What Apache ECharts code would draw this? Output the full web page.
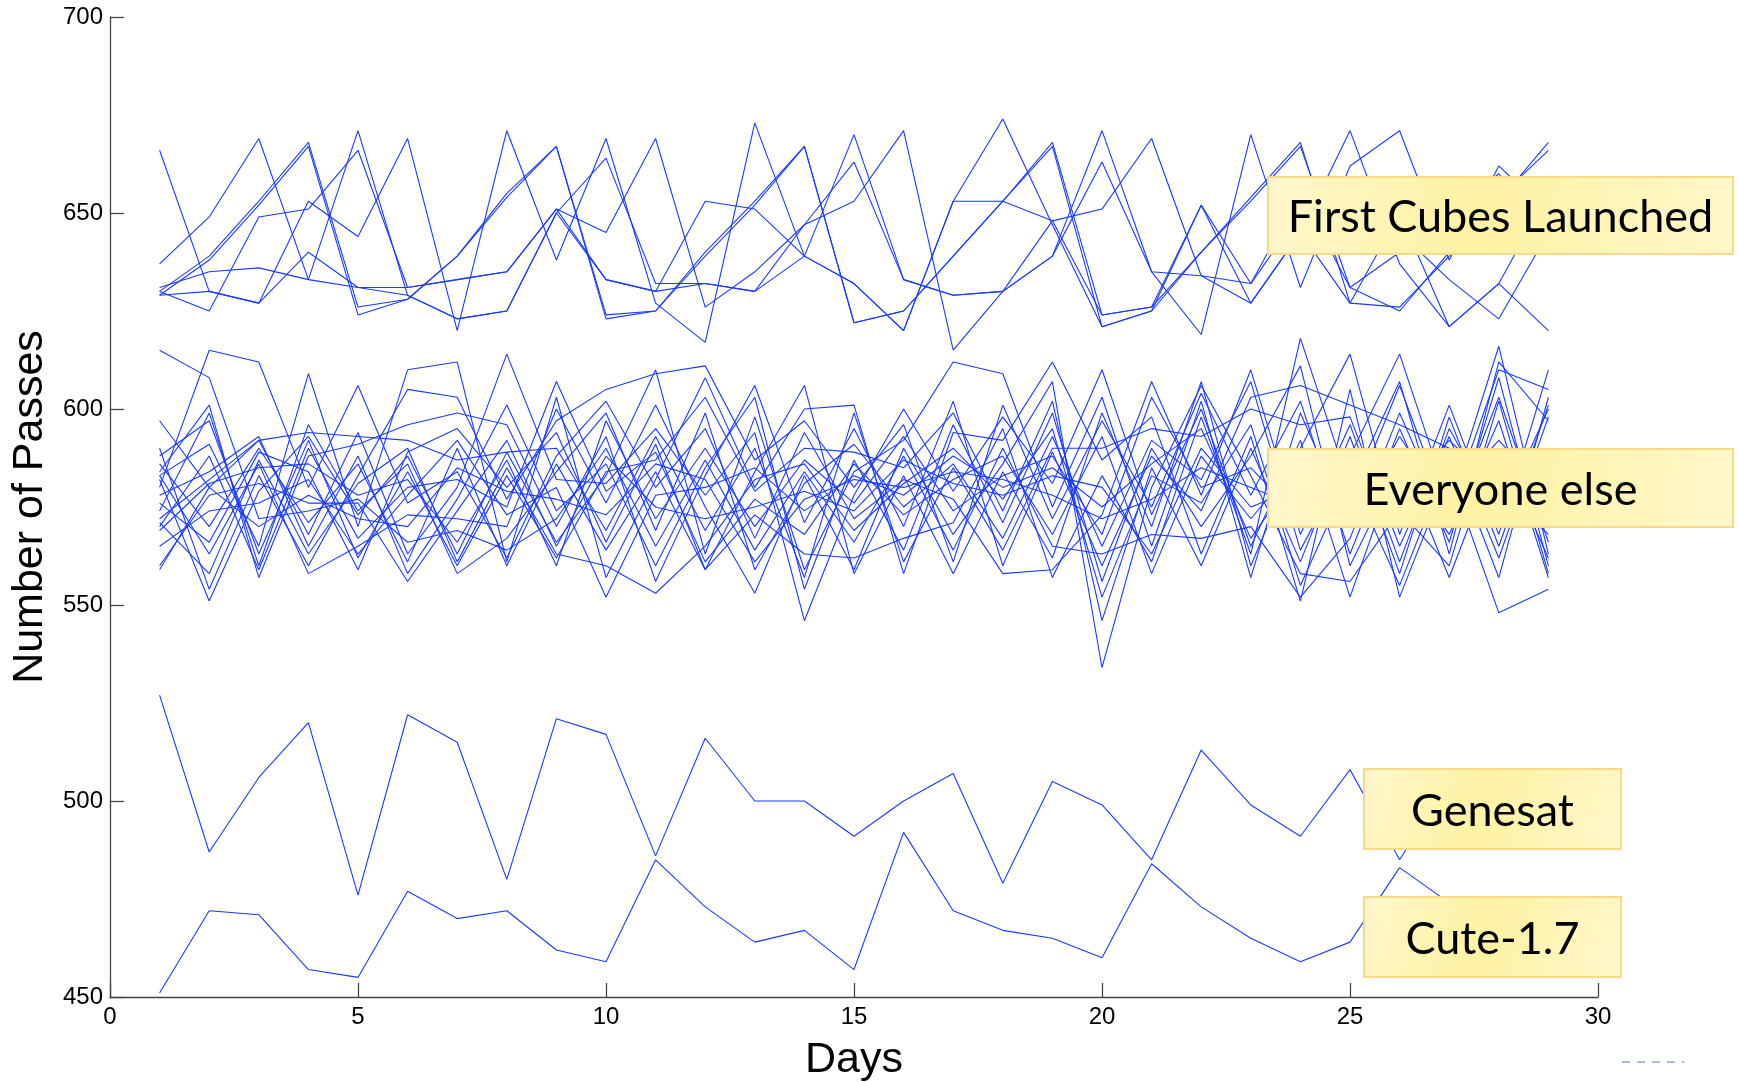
<!DOCTYPE html>
<html>
<head>
<meta charset="utf-8">
<title>Number of Passes</title>
<script src="https://cdn.jsdelivr.net/npm/echarts@6/dist/echarts.min.js"></script>
<style>
  html, body { margin: 0; padding: 0; background: #fff; }
  #chart { width: 1739px; height: 1082px; }
</style>
</head>
<body>
<div id="chart"></div>
<script>
// day index shared by every line
const days = [1, 2, 3, 4, 5, 6, 7, 8, 9, 10, 11, 12, 13, 14, 15, 16, 17, 18, 19, 20, 21, 22, 23, 24, 25, 26, 27, 28, 29]

// passes per day, first cubes launched
const firstCubes = [
  [666, 630, 627, 653, 644, 669, 620, 671, 638, 669, 627, 617, 673, 639, 632, 620, 653, 674, 647, 621, 625, 652, 627, 645, 671, 637, 621, 632, 620],
  [637, 649, 669, 633, 631, 631, 633, 635, 651, 645, 669, 626, 635, 647, 663, 633, 629, 630, 639, 671, 635, 619, 670, 631, 662, 671, 638, 662, 650],
  [630, 639, 653, 668, 626, 628, 639, 655, 667, 624, 625, 640, 653, 667, 622, 625, 639, 653, 668, 624, 626, 640, 654, 668, 627, 626, 639, 653, 668],
  [629, 638, 652, 667, 624, 628, 639, 654, 667, 623, 625, 639, 652, 667, 622, 625, 639, 653, 667, 621, 625, 640, 653, 667, 631, 625, 640, 654, 666],
  [631, 635, 636, 633, 671, 629, 623, 625, 650, 664, 632, 632, 630, 647, 653, 671, 615, 630, 639, 663, 635, 634, 632, 650, 650, 645, 633, 623, 645],
  [630, 625, 649, 651, 666, 631, 633, 635, 651, 633, 630, 653, 651, 639, 670, 633, 629, 630, 648, 651, 669, 634, 627, 645, 627, 650, 621, 632, 655],
  [629, 630, 627, 640, 631, 629, 623, 625, 650, 633, 630, 632, 630, 639, 632, 620, 653, 653, 648, 624, 626, 652, 632, 655, 631, 640, 650, 660, 642]
]

// passes per day, everyone else
const everyoneElse = [
  [615, 608, 572, 574, 577, 566, 569, 564, 572, 590, 565, 587, 564, 584, 566, 588, 564, 590, 565, 563, 568, 567, 570, 552, 567, 599, 570, 603, 566],
  [597, 580, 592, 594, 593, 592, 587, 589, 590, 569, 593, 569, 590, 557, 599, 561, 585, 564, 590, 590, 595, 593, 600, 596, 598, 565, 593, 562, 598],
  [590, 554, 583, 560, 583, 605, 603, 577, 597, 605, 609, 611, 587, 597, 580, 596, 561, 601, 572, 597, 575, 604, 578, 602, 563, 595, 566, 608, 560],
  [588, 597, 563, 592, 562, 584, 560, 583, 562, 584, 587, 603, 579, 590, 589, 585, 599, 574, 602, 546, 585, 560, 590, 561, 593, 558, 598, 565, 601],
  [586, 570, 590, 571, 586, 561, 590, 560, 586, 564, 584, 559, 573, 563, 562, 567, 571, 595, 557, 583, 561, 598, 563, 618, 580, 607, 563, 612, 597],
  [584, 601, 557, 588, 591, 596, 599, 596, 570, 593, 556, 583, 606, 571, 595, 570, 602, 560, 589, 560, 588, 574, 603, 606, 601, 596, 590, 557, 603],
  [583, 563, 586, 558, 565, 573, 572, 570, 600, 576, 601, 575, 553, 583, 559, 590, 568, 586, 607, 534, 580, 606, 583, 558, 556, 574, 560, 602, 558],
  [583, 591, 565, 609, 570, 610, 612, 561, 603, 557, 582, 608, 580, 600, 601, 558, 594, 592, 612, 587, 598, 563, 593, 551, 605, 552, 584, 548, 554],
  [582, 551, 579, 593, 573, 588, 563, 589, 566, 583, 610, 563, 598, 559, 584, 592, 612, 609, 575, 603, 565, 602, 557, 599, 570, 593, 574, 610, 605],
  [580, 615, 612, 580, 606, 576, 584, 562, 588, 602, 580, 595, 567, 594, 572, 582, 577, 558, 559, 573, 607, 578, 610, 568, 596, 561, 595, 572, 600],
  [578, 584, 593, 565, 588, 558, 577, 601, 574, 586, 560, 585, 603, 554, 587, 564, 596, 571, 599, 556, 590, 570, 588, 611, 560, 586, 568, 597, 557],
  [576, 566, 589, 584, 559, 589, 595, 580, 594, 566, 591, 559, 584, 606, 558, 583, 558, 584, 562, 599, 570, 607, 560, 590, 614, 568, 601, 568, 610],
  [574, 599, 560, 596, 574, 586, 558, 567, 584, 599, 569, 599, 559, 581, 591, 575, 586, 567, 593, 565, 592, 582, 607, 564, 588, 614, 576, 616, 563],
  [572, 582, 592, 568, 594, 563, 580, 614, 582, 581, 595, 578, 594, 546, 578, 600, 579, 598, 581, 610, 573, 600, 565, 592, 552, 588, 557, 590, 562],
  [571, 558, 587, 563, 581, 590, 561, 585, 563, 560, 553, 565, 582, 586, 569, 581, 590, 577, 595, 552, 583, 576, 596, 555, 583, 555, 587, 575, 590],
  [570, 588, 559, 590, 567, 580, 582, 575, 607, 579, 589, 561, 577, 568, 586, 573, 582, 588, 568, 593, 558, 588, 572, 587, 575, 606, 572, 587, 585],
  [569, 581, 585, 586, 578, 582, 566, 587, 560, 597, 572, 590, 570, 587, 576, 593, 574, 583, 588, 568, 603, 580, 585, 572, 590, 578, 592, 580, 568],
  [565, 574, 576, 582, 563, 578, 592, 573, 580, 552, 578, 580, 585, 574, 583, 578, 588, 580, 585, 575, 586, 595, 567, 585, 572, 590, 578, 592, 578],
  [560, 578, 581, 576, 576, 556, 574, 592, 565, 588, 575, 572, 575, 579, 574, 587, 581, 578, 583, 580, 563, 590, 575, 580, 585, 572, 582, 583, 573],
  [559, 580, 570, 578, 572, 570, 585, 579, 577, 573, 586, 582, 561, 577, 582, 580, 584, 582, 578, 572, 577, 585, 580, 575, 578, 582, 580, 579, 580]
]

const genesat = [527, 487, 506, 520, 476, 522, 515, 480, 521, 517, 486, 516, 500, 500, 491, 500, 507, 479, 505, 499, 485, 513, 499, 491, 508, 485, 505, 495, 502]
const cute17 = [451, 472, 471, 457, 455, 477, 470, 472, 462, 459, 485, 473, 464, 467, 457, 492, 472, 467, 465, 460, 484, 473, 465, 459, 464, 483, 474, 468, 462]

const xTicks = [0, 5, 10, 15, 20, 25, 30]
const yTicks = [450, 500, 550, 600, 650, 700]

const lineColor = '#1a3aff'
const axisColor = '#444'
const tickFont = 'Liberation Sans'

const toPoints = (vals) => vals.map((v, i) => [days[i], v])

const lineSeries = (name, vals) => ({
  name,
  type: 'line',
  data: toPoints(vals),
  symbol: 'none',
  showSymbol: false,
  silent: true,
  lineStyle: { color: lineColor, width: 1.1 },
  z: 2
})

const series = [
  ...firstCubes.map((v, i) => lineSeries('First Cubes ' + (i + 1), v)),
  ...everyoneElse.map((v, i) => lineSeries('Everyone else ' + (i + 1), v)),
  lineSeries('Genesat', genesat),
  lineSeries('Cute-1.7', cute17)
]

const boxFill = () => new echarts.graphic.LinearGradient(0, 0, 1, 1, [
  { offset: 0, color: '#fff7cc' },
  { offset: 0.45, color: '#fef2a3' },
  { offset: 1, color: '#fff7cb' }
])

const labelBox = (text, left, top, w, h) => ({
  type: 'group',
  left,
  top,
  z: 100,
  children: [
    {
      type: 'rect',
      z: 100,
      shape: { x: 0, y: 0, width: w, height: h },
      style: { fill: boxFill(), stroke: '#f7da86', lineWidth: 2 }
    },
    {
      type: 'text',
      z: 101,
      x: w / 2,
      y: h / 2 + 2,
      style: {
        text,
        fontFamily: 'Lato',
        fontSize: 45,
        fill: '#000',
        align: 'center',
        verticalAlign: 'middle'
      }
    }
  ]
})

const chart = echarts.init(document.getElementById('chart'), null, { renderer: 'canvas' })

chart.setOption({
  backgroundColor: '#fff',
  animation: false,
  grid: {
    left: 110,
    right: 141,
    top: 17,
    bottom: 85,
    outerBoundsMode: 'none'
  },
  xAxis: {
    type: 'value',
    min: xTicks[0],
    max: xTicks[xTicks.length - 1],
    interval: 5,
    name: 'Days',
    nameLocation: 'middle',
    nameGap: 42,
    nameTextStyle: { fontFamily: tickFont, fontSize: 43, color: '#000' },
    axisLine: { show: true, onZero: false, lineStyle: { color: axisColor, width: 1.3 } },
    axisTick: { show: true, inside: true, length: 14, lineStyle: { color: axisColor, width: 1.3 } },
    axisLabel: { color: '#000', fontFamily: tickFont, fontSize: 24, margin: 8 },
    splitLine: { show: false }
  },
  yAxis: {
    type: 'value',
    min: yTicks[0],
    max: yTicks[yTicks.length - 1],
    interval: 50,
    name: 'Number of Passes',
    nameLocation: 'middle',
    nameGap: 51,
    nameTextStyle: { fontFamily: tickFont, fontSize: 43, color: '#000' },
    axisLine: { show: true, onZero: false, lineStyle: { color: axisColor, width: 1.3 } },
    axisTick: { show: true, inside: true, length: 14, lineStyle: { color: axisColor, width: 1.3 } },
    axisLabel: { color: '#000', fontFamily: tickFont, fontSize: 24, margin: 7 },
    splitLine: { show: false }
  },
  series,
  graphic: [
    labelBox('First Cubes Launched', 1267, 176, 465, 77),
    labelBox('Everyone else', 1267, 448, 465, 78),
    labelBox('Genesat', 1363, 768, 257, 80),
    labelBox('Cute-1.7', 1363, 896, 257, 80),
    {
      type: 'line',
      z: 100,
      shape: { x1: 1622, y1: 1062, x2: 1684, y2: 1062 },
      style: { stroke: '#a9bfd5', lineWidth: 2, lineDash: [8, 7] }
    }
  ]
})

window.addEventListener('resize', () => chart.resize())
</script>
</body>
</html>
